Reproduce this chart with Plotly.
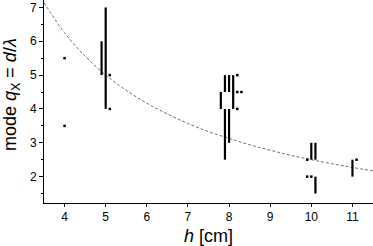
import plotly.graph_objects as go

# Vertical range bars: position h, lower mode, upper mode
bar_h = [4.9, 5.0, 7.8, 7.9, 7.9, 8.0, 8.0, 8.1, 10.0, 10.1, 10.1, 11.0]
bar_low = [5.0, 4.0, 4.0, 4.5, 2.5, 4.5, 3.0, 4.0, 2.5, 2.5, 1.5, 2.0]
bar_high = [6.0, 7.0, 4.5, 5.0, 4.0, 5.0, 4.0, 5.0, 3.0, 3.0, 2.0, 2.5]

# Single observations
pt_h = [4.0, 4.0, 5.1, 5.1, 8.2, 8.2, 8.3, 8.2, 9.9, 9.9, 10.0, 11.1]
pt_v = [5.5, 3.5, 5.0, 4.0, 5.0, 4.5, 4.5, 4.0, 2.5, 2.0, 2.0, 2.5]

# Dashed guide curve
curve_h = [3.5, 4.0, 4.5, 5.0, 5.5, 6.0, 6.5, 7.0, 7.5, 8.0, 8.5, 9.0, 9.5, 10.0, 10.5, 11.0, 11.5]
curve_v = [7.14, 6.25, 5.56, 5.0, 4.55, 4.17, 3.85, 3.57, 3.33, 3.13, 2.94, 2.78, 2.63, 2.5, 2.38, 2.27, 2.17]

x_ticks = [4, 5, 6, 7, 8, 9, 10, 11]
y_ticks = [2, 3, 4, 5, 6, 7]

bx, by = [], []
for h, lo, hi in zip(bar_h, bar_low, bar_high):
    bx += [h, h, None]
    by += [lo, hi, None]

fig = go.Figure()
fig.add_trace(go.Scatter(x=curve_h, y=curve_v, mode="lines", line=dict(color="#707070", width=1, dash="3px,2px", shape="spline"), hoverinfo="skip"))
fig.add_trace(go.Scatter(x=bx, y=by, mode="lines", line=dict(color="black", width=2.2), connectgaps=False))
fig.add_trace(go.Scatter(x=pt_h, y=pt_v, mode="markers", marker=dict(symbol="square", size=2.5, color="black", line=dict(width=0))))

font = "Liberation Sans, Arial, sans-serif"
fig.update_layout(
    width=373, height=246,
    margin=dict(l=44, r=0, t=0, b=43, autoexpand=False),
    paper_bgcolor="white", plot_bgcolor="white",
    showlegend=False,
    font=dict(family=font, color="black", size=12),
    xaxis=dict(range=[3.5, 11.5], tickvals=x_ticks, ticks="outside", ticklen=3, tickcolor="black",
               showline=True, linecolor="black", linewidth=1, showgrid=False, zeroline=False,
               tickfont=dict(size=12), automargin=False),
    yaxis=dict(range=[1.22, 7.22], tickvals=y_ticks, ticks="outside", ticklen=4, tickcolor="black",
               showline=True, linecolor="black", linewidth=1, showgrid=False, zeroline=False,
               tickfont=dict(size=12), automargin=False,
               minor=dict(dtick=0.5, ticks="outside", ticklen=2, tickcolor="black", showgrid=False)),
    annotations=[
        dict(text="<i>h</i> [cm]", xref="paper", yref="paper", x=0.5, y=-0.165,
             xanchor="center", yanchor="middle", showarrow=False, font=dict(size=18)),
        dict(text="mode <i>q</i><sub>X</sub> = <i>d</i>/<i>λ</i>", xref="paper", yref="paper",
             x=-0.1, y=0.532, xanchor="center", yanchor="middle", textangle=-90,
             showarrow=False, font=dict(size=18)),
    ],
)
fig.write_html("out.html", config={"displayModeBar": False},
               post_script="document.body.style.margin='0';document.body.style.overflow='hidden';")
